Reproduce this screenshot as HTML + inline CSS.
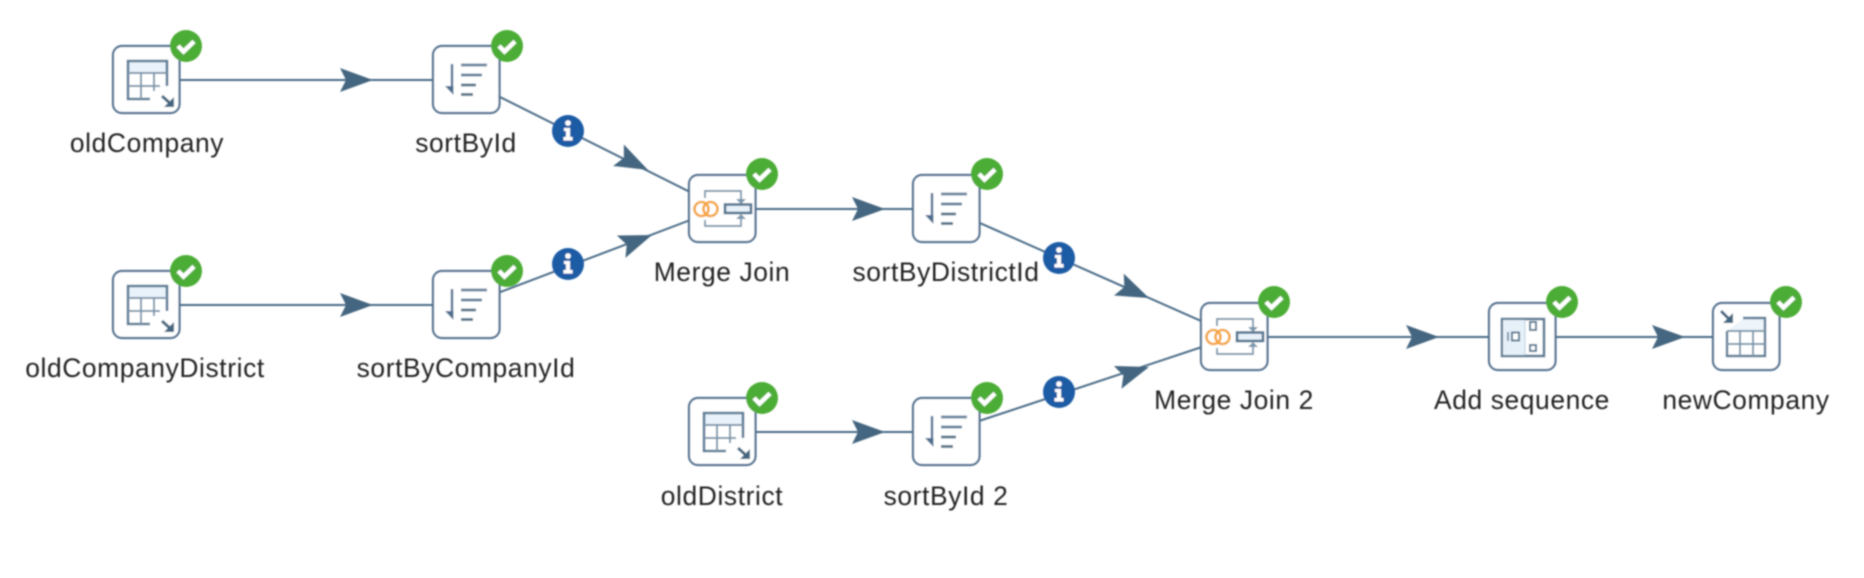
<!DOCTYPE html>
<html><head><meta charset="utf-8"><style>
html,body{margin:0;padding:0;background:#fff;width:1864px;height:578px;overflow:hidden}
svg{display:block}
text{font-family:"Liberation Sans",sans-serif;font-size:26.4px;fill:#222;text-anchor:middle;letter-spacing:.6px}
</style></head><body>
<svg width="1864" height="578" viewBox="0 0 1864 578" xmlns="http://www.w3.org/2000/svg">
<defs>
<filter id="b" x="-5%" y="-5%" width="110%" height="110%"><feGaussianBlur stdDeviation="0.7"/></filter>
<polygon id="arrow" points="0,0 -33,-12 -27,0 -33,12" fill="#446680"/>
<g id="box"><rect x="0" y="0" width="66.5" height="67" rx="9" fill="#fff" stroke="#4f7090" stroke-width="2.2"/></g>
<g id="ok"><circle r="16" fill="#4bad34"/><path d="M-8,0 L-2.5,5.5 L8,-4.5" fill="none" stroke="#fff" stroke-width="4.4"/></g>
<g id="info"><circle r="16" fill="#1b5ba5"/><circle cy="-8" r="2.8" fill="#fff"/><path d="M-4,-3 H2 V6 H4.5 V9.5 H-4.5 V6 H-2 V0 H-4 Z" fill="#fff"/></g>
<g id="tin">
<use href="#box"/>
<rect x="15" y="15.5" width="39" height="11" fill="#e9f2fa"/>
<path d="M54,40 V15 H15 V53 H37" fill="none" stroke="#5b7b96" stroke-width="2.6"/>
<path d="M15,27 H54 M15,40 H47 M28,27 V53 M41,27 V45" fill="none" stroke="#7d97ad" stroke-width="2"/>
<path d="M49,50 L60,60" stroke="#446680" stroke-width="3"/><path d="M61,61 L61,51 L51,61 Z" fill="#446680"/>
</g>
<g id="tout">
<use href="#box"/>
<path d="M14,28 L30,16 H52 V28 Z" fill="#edf4fa"/>
<path d="M30,15 H52 V53 H14 V28" fill="none" stroke="#5b7b96" stroke-width="2.4"/>
<path d="M14,28 H52 M14,41 H52 M27,28 V53 M40,28 V53" fill="none" stroke="#7d97ad" stroke-width="2"/>
<path d="M8,8 L18,18" stroke="#446680" stroke-width="3"/><path d="M20,20 L20,10 L10,20 Z" fill="#446680"/>
</g>
<g id="sort">
<use href="#box"/>
<path d="M19,18 V46" stroke="#4f7090" stroke-width="2.4"/><path d="M20.5,49 V40 L12,40 Z" fill="#4f7090"/>
<path d="M28,19 H54" stroke="#6f8ba3" stroke-width="3"/>
<path d="M28,29 H49" stroke="#5f7f99" stroke-width="2.8"/>
<path d="M28,39 H43" stroke="#527389" stroke-width="2.8"/>
<path d="M28,48.5 H40" stroke="#527389" stroke-width="2.8"/>
</g>
<g id="mj">
<use href="#box"/>
<path d="M16,23 V16 H52 V25 M16,45 V51 H52 V43" fill="none" stroke="#7d97ad" stroke-width="1.9"/>
<path d="M47,24 H57 L52,29 Z M47,44 H57 L52,39 Z" fill="#7d97ad"/>
<rect x="36" y="29.5" width="26" height="8.5" fill="#e8f1f9" stroke="#54758f" stroke-width="2.6"/>
<circle cx="12.5" cy="34" r="7" fill="none" stroke="#f4a63a" stroke-width="2.6"/>
<circle cx="21.5" cy="34" r="7" fill="none" stroke="#f4a63a" stroke-width="2.6"/>
</g>
<g id="seq">
<use href="#box"/>
<rect x="13" y="16" width="42" height="37" fill="#fff" stroke="#587992" stroke-width="2.6"/>
<rect x="14" y="17" width="22" height="35" fill="#e6f0f9"/>
<path d="M36,17 V52" stroke="#c6d6e3" stroke-width="1.2"/>
<rect x="41" y="19" width="6" height="8" fill="#fff" stroke="#587992" stroke-width="2"/>
<rect x="41" y="42" width="6" height="6" fill="#fff" stroke="#587992" stroke-width="2"/>
<path d="M19,29 V38" stroke="#7d97ad" stroke-width="2"/>
<rect x="23" y="29.5" width="7" height="8" fill="#fff" stroke="#587992" stroke-width="2"/>
</g>
</defs>
<g filter="url(#b)">
<g stroke="#4a6c88" stroke-width="2" fill="none">
<line x1="146" y1="80" x2="466" y2="80"/>
<line x1="466" y1="80" x2="722" y2="208"/>
<line x1="146" y1="305" x2="466" y2="305"/>
<line x1="466" y1="305" x2="722" y2="208"/>
<line x1="722" y1="209" x2="946" y2="209"/>
<line x1="946" y1="208" x2="1235" y2="336"/>
<line x1="722" y1="432" x2="946" y2="432"/>
<line x1="946" y1="432" x2="1235" y2="336"/>
<line x1="1235" y1="337" x2="1522" y2="337"/>
<line x1="1522" y1="337" x2="1747" y2="337"/>
</g>
<use href="#arrow" transform="translate(373,80)"/>
<use href="#arrow" transform="translate(373,305)"/>
<use href="#arrow" transform="translate(648,170) rotate(26.6)"/>
<use href="#arrow" transform="translate(652,235) rotate(-20.8)"/>
<use href="#arrow" transform="translate(885,209)"/>
<use href="#arrow" transform="translate(885,432)"/>
<use href="#arrow" transform="translate(1149,298) rotate(24)"/>
<use href="#arrow" transform="translate(1149,367) rotate(-18.4)"/>
<use href="#arrow" transform="translate(1439,337)"/>
<use href="#arrow" transform="translate(1685,337)"/>

<use href="#tin" transform="translate(113,46)"/>
<use href="#sort" transform="translate(433,46)"/>
<use href="#tin" transform="translate(113,271)"/>
<use href="#sort" transform="translate(433,271)"/>
<use href="#mj" transform="translate(689,175)"/>
<use href="#sort" transform="translate(913,175)"/>
<use href="#tin" transform="translate(689,398)"/>
<use href="#sort" transform="translate(913,398)"/>
<use href="#mj" transform="translate(1201,303)"/>
<use href="#seq" transform="translate(1489,303)"/>
<use href="#tout" transform="translate(1713,303)"/>

<use href="#ok" transform="translate(186,46)"/>
<use href="#ok" transform="translate(507,46)"/>
<use href="#ok" transform="translate(186,271)"/>
<use href="#ok" transform="translate(507,271)"/>
<use href="#ok" transform="translate(762,174)"/>
<use href="#ok" transform="translate(987,174)"/>
<use href="#ok" transform="translate(762,398)"/>
<use href="#ok" transform="translate(987,398)"/>
<use href="#ok" transform="translate(1274,302)"/>
<use href="#ok" transform="translate(1562,302)"/>
<use href="#ok" transform="translate(1786,302)"/>

<use href="#info" transform="translate(568,131)"/>
<use href="#info" transform="translate(568,264)"/>
<use href="#info" transform="translate(1059,258)"/>
<use href="#info" transform="translate(1059,392)"/>

<text x="147" y="152">oldCompany</text>
<text x="466" y="152">sortById</text>
<text x="145" y="377">oldCompanyDistrict</text>
<text x="466" y="377">sortByCompanyId</text>
<text x="722" y="281">Merge Join</text>
<text x="946" y="281">sortByDistrictId</text>
<text x="722" y="505">oldDistrict</text>
<text x="946" y="505">sortById 2</text>
<text x="1234" y="409">Merge Join 2</text>
<text x="1522" y="409">Add sequence</text>
<text x="1746" y="409">newCompany</text>
</g>
</svg>
</body></html>
